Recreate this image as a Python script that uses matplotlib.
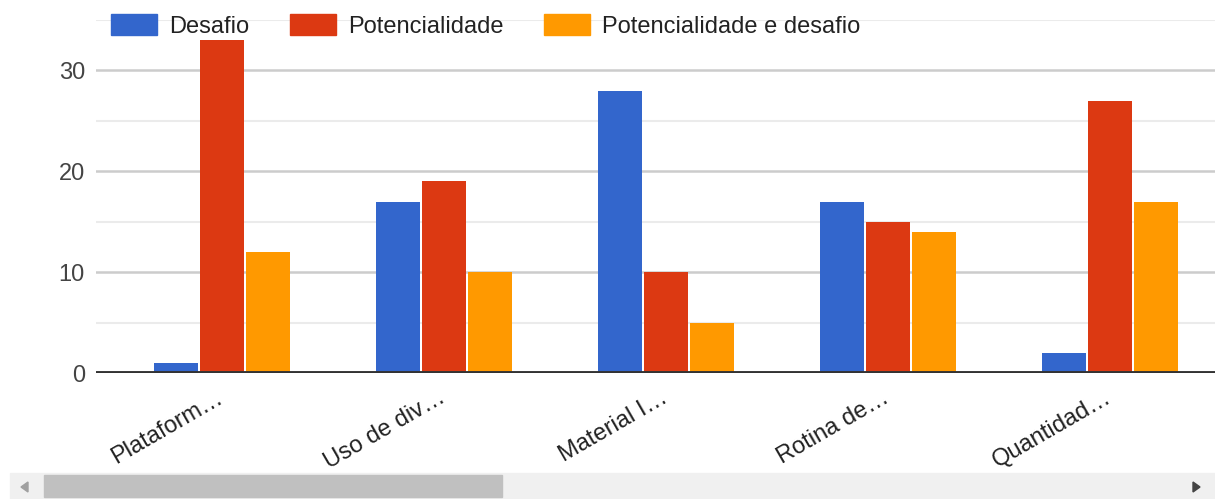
import matplotlib
matplotlib.use("Agg")
import matplotlib.pyplot as plt
from matplotlib.patches import Rectangle
import matplotlib.transforms as mtransforms
import numpy as np

plt.rcParams['font.family'] = ['Liberation Sans', 'DejaVu Sans']

categories = ["Plataform…", "Uso de div…", "Material I…", "Rotina de…", "Quantidad…"]
series_names = ["Desafio", "Potencialidade", "Potencialidade e desafio"]
desafio = [1, 17, 28, 17, 2]
potencialidade = [33, 19, 10, 15, 27]
pot_desafio = [12, 10, 5, 14, 17]
series_values = [desafio, potencialidade, pot_desafio]
colors = ["#3366cc", "#dc3912", "#ff9900"]
y_ticks = [0, 10, 20, 30]

W, H = 1215, 499
fig = plt.figure(figsize=(W / 100, H / 100), dpi=100)
ax = fig.add_axes([96 / W, (H - 373) / H, 1 - 96 / W, (373 - 20) / H])

x = np.arange(len(categories))
bw = 44 / 222
step = 46 / 222
for i, (vals, c) in enumerate(zip(series_values, colors)):
    ax.bar(x + (i - 1) * step, vals, width=bw, color=c, zorder=3, linewidth=0)

ax.set_xlim(-126 / 222, (1215 - 222) / 222)
ax.set_ylim(0, 35)

for v in [5, 15, 25, 35]:
    ax.axhline(v, color="#ebebeb", lw=1.5, zorder=1)
for v in [10, 20, 30]:
    ax.axhline(v, color="#cccccc", lw=1.8, zorder=1)
ax.axhline(0, color="#333333", lw=2.8, zorder=4)

for s in ax.spines.values():
    s.set_visible(False)
ax.set_yticks(y_ticks)
ax.set_yticklabels([str(t) for t in y_ticks], fontsize=17, color="#444444")
ax.tick_params(axis="y", length=0, pad=8)
ax.set_xticks(x)
ax.set_xticklabels(categories, rotation=30, ha="right", va="top",
                   rotation_mode="anchor", fontsize=17, color="#222222")
ax.tick_params(axis="x", length=0, pad=10)
offset = mtransforms.ScaledTranslation(-6 / 100, 0, fig.dpi_scale_trans)
for lab in ax.get_xticklabels():
    lab.set_transform(lab.get_transform() + offset)

# legend
leg_x = [111, 290, 544]
for lx, name, c in zip(leg_x, series_names, colors):
    fig.patches.append(Rectangle((lx / W, (H - 35) / H), 46 / W, 21 / H,
                                 transform=fig.transFigure, color=c, zorder=5))
    fig.text((lx + 58) / W, (H - 33) / H, name, fontsize=17, color="#222222",
             va="baseline", ha="left", zorder=6)

# scrollbar
fig.patches.append(Rectangle((10 / W, 0), (W - 10) / W, 26 / H,
                             transform=fig.transFigure, color="#f0f0f0", zorder=5))
fig.patches.append(Rectangle((44 / W, 2 / H), (502 - 44) / W, 22 / H,
                             transform=fig.transFigure, color="#c0c0c0", zorder=6))
fig.patches.append(plt.Polygon([[21 / W, 12 / H], [28 / W, 7 / H], [28 / W, 17 / H]],
                               closed=True, transform=fig.transFigure,
                               color="#a0a0a0", zorder=6))
fig.patches.append(plt.Polygon([[1200 / W, 12 / H], [1193 / W, 7 / H], [1193 / W, 17 / H]],
                               closed=True, transform=fig.transFigure,
                               color="#444444", zorder=6))

fig.savefig("out.png", dpi=100)
